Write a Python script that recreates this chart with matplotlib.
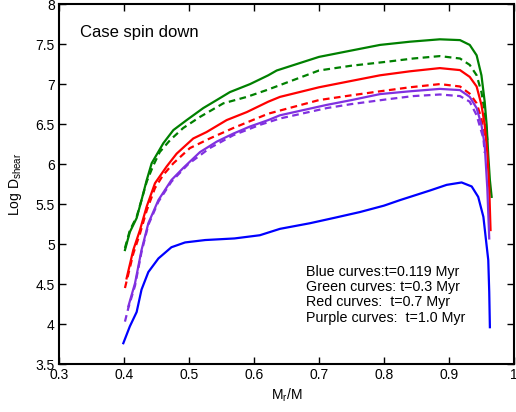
import numpy as np
import matplotlib
matplotlib.use("Agg")
import matplotlib.pyplot as plt

plt.rcParams['font.family'] = ['Liberation Sans', 'DejaVu Sans']
plt.rcParams['mathtext.default'] = 'regular'

# blue, t=0.119 Myr
blue_x = [0.399, 0.409, 0.4195, 0.427, 0.4375, 0.453, 0.473, 0.494, 0.525, 0.57,
          0.609, 0.64, 0.686, 0.725, 0.763, 0.80, 0.825, 0.871, 0.8965, 0.9195,
          0.935, 0.945, 0.953, 0.957, 0.9605, 0.962, 0.963]
blue_y = [3.76, 3.97, 4.15, 4.43, 4.65, 4.82, 4.96, 5.02, 5.05, 5.07,
          5.11, 5.19, 5.26, 5.33, 5.40, 5.48, 5.55, 5.67, 5.74, 5.77,
          5.72, 5.59, 5.34, 5.05, 4.80, 4.40, 3.96]

# green, t=0.3 Myr
green_x = [0.4015, 0.409, 0.4195, 0.427, 0.435, 0.4426, 0.4605, 0.476, 0.4965, 0.522,
           0.5426, 0.563, 0.594, 0.622, 0.635, 0.70, 0.75, 0.794, 0.84, 0.886,
           0.917, 0.932, 0.9426, 0.950, 0.955, 0.958, 0.9605, 0.963, 0.9657]
green_y = [4.925, 5.15, 5.325, 5.55, 5.80, 6.01, 6.26, 6.425, 6.55, 6.70,
           6.80, 6.90, 7.00, 7.11, 7.17, 7.34, 7.42, 7.49, 7.53, 7.56,
           7.55, 7.49, 7.36, 7.11, 6.78, 6.49, 6.11, 5.80, 5.59]
green_dash_x = [0.4015, 0.409, 0.4195, 0.427, 0.435, 0.445, 0.455, 0.471, 0.491, 0.517,
                0.553, 0.589, 0.6195, 0.70, 0.75, 0.805, 0.845, 0.886, 0.917, 0.932,
                0.9426, 0.950, 0.955, 0.959]
green_dash_y = [4.95, 5.17, 5.34, 5.55, 5.78, 5.98, 6.15, 6.30, 6.45, 6.59,
                6.76, 6.84, 6.925, 7.17, 7.23, 7.28, 7.32, 7.35, 7.32, 7.24,
                7.11, 6.90, 6.65, 6.30]

# red, t=0.7 Myr
red_x = [0.404, 0.4143, 0.4246, 0.435, 0.4477, 0.4657, 0.481, 0.5066, 0.527, 0.558,
         0.589, 0.622, 0.64, 0.70, 0.75, 0.794, 0.84, 0.886, 0.917, 0.932,
         0.9426, 0.950, 0.955, 0.959, 0.962, 0.964]
red_y = [4.57, 4.925, 5.175, 5.47, 5.76, 5.97, 6.13, 6.32, 6.40, 6.55,
         6.65, 6.78, 6.84, 6.96, 7.04, 7.11, 7.16, 7.20, 7.175, 7.09,
         6.97, 6.74, 6.49, 6.15, 5.70, 5.175]
red_dash_x = [0.4015, 0.409, 0.4143, 0.4246, 0.435, 0.4477, 0.46, 0.476, 0.5015, 0.532,
              0.568, 0.622, 0.70, 0.75, 0.794, 0.84, 0.886, 0.917, 0.932, 0.9426,
              0.950, 0.955]
red_dash_y = [4.45, 4.70, 4.88, 5.13, 5.42, 5.70, 5.86, 6.01, 6.20, 6.32,
              6.45, 6.63, 6.80, 6.86, 6.91, 6.96, 7.00, 6.97, 6.88, 6.76,
              6.57, 6.30]

# purple, t=1.0 Myr
purple_x = [0.4067, 0.417, 0.427, 0.4375, 0.453, 0.473, 0.491, 0.517, 0.5426, 0.568,
            0.594, 0.622, 0.64, 0.712, 0.75, 0.794, 0.84, 0.886, 0.917, 0.932,
            0.9426, 0.950, 0.955, 0.959, 0.962]
purple_y = [4.22, 4.51, 4.925, 5.26, 5.55, 5.80, 5.95, 6.15, 6.28, 6.38,
            6.47, 6.55, 6.61, 6.74, 6.80, 6.875, 6.91, 6.94, 6.925, 6.84,
            6.70, 6.49, 6.24, 5.70, 5.07]
purple_dash_x = [0.4015, 0.4067, 0.417, 0.427, 0.4375, 0.453, 0.473, 0.499, 0.532, 0.568,
                 0.609, 0.64, 0.712, 0.75, 0.805, 0.845, 0.886, 0.917, 0.932, 0.9426,
                 0.953, 0.955]
purple_dash_y = [4.03, 4.20, 4.48, 4.90, 5.24, 5.53, 5.78, 6.00, 6.20, 6.36,
                 6.49, 6.57, 6.70, 6.75, 6.81, 6.85, 6.87, 6.85, 6.78, 6.61,
                 6.32, 6.14]

legend_lines = ["Blue curves:t=0.119 Myr",
                "Green curves: t=0.3 Myr",
                "Red curves:  t=0.7 Myr",
                "Purple curves:  t=1.0 Myr"]

c_blue = '#0000ff'
c_green = '#008000'
c_red = '#ff0000'
c_purple = '#8030e0'
dash = (0, (3, 2))
lw = 1.6

fig = plt.figure(figsize=(5.16, 4.12), dpi=100)
ax = fig.add_axes([0.1143, 0.1165, 0.8817, 0.8735])

kw = dict(lw=lw, solid_joinstyle='round', dash_joinstyle='round')
ax.plot(green_x, green_y, color=c_green, **kw)
ax.plot(green_dash_x, green_dash_y, color=c_green, linestyle=dash, **kw)
ax.plot(red_x, red_y, color=c_red, **kw)
ax.plot(red_dash_x, red_dash_y, color=c_red, linestyle=dash, **kw)
ax.plot(purple_x, purple_y, color=c_purple, **kw)
ax.plot(purple_dash_x, purple_dash_y, color=c_purple, linestyle=dash, **kw)
ax.plot(blue_x, blue_y, color=c_blue, **kw)

ax.set_xlim(0.3, 1.0)
ax.set_ylim(3.5, 8)
ax.set_xticks(np.arange(0.3, 1.01, 0.1))
ax.set_xticklabels(['0.3', '0.4', '0.5', '0.6', '0.7', '0.8', '0.9', '1'])
ax.set_yticks(np.arange(3.5, 8.01, 0.5))
ax.set_yticklabels(['3.5', '4', '4.5', '5', '5.5', '6', '6.5', '7', '7.5', '8'])
ax.tick_params(direction='in', length=5, width=1, labelsize=10,
               top=True, right=True, pad=3)
for s in ax.spines.values():
    s.set_linewidth(1.5)

ax.set_xlabel('M$_r$/M', fontsize=10, labelpad=3)
ax.set_ylabel('Log D$_{shear}$', fontsize=10, labelpad=8)

ax.text(0.332, 7.65, 'Case spin down', fontsize=12, va='center', ha='left')
ax.text(0.680, 3.99, "\n".join(legend_lines), fontsize=10.3, va='bottom',
        ha='left', linespacing=1.12)

fig.savefig('out.png', dpi=100)
